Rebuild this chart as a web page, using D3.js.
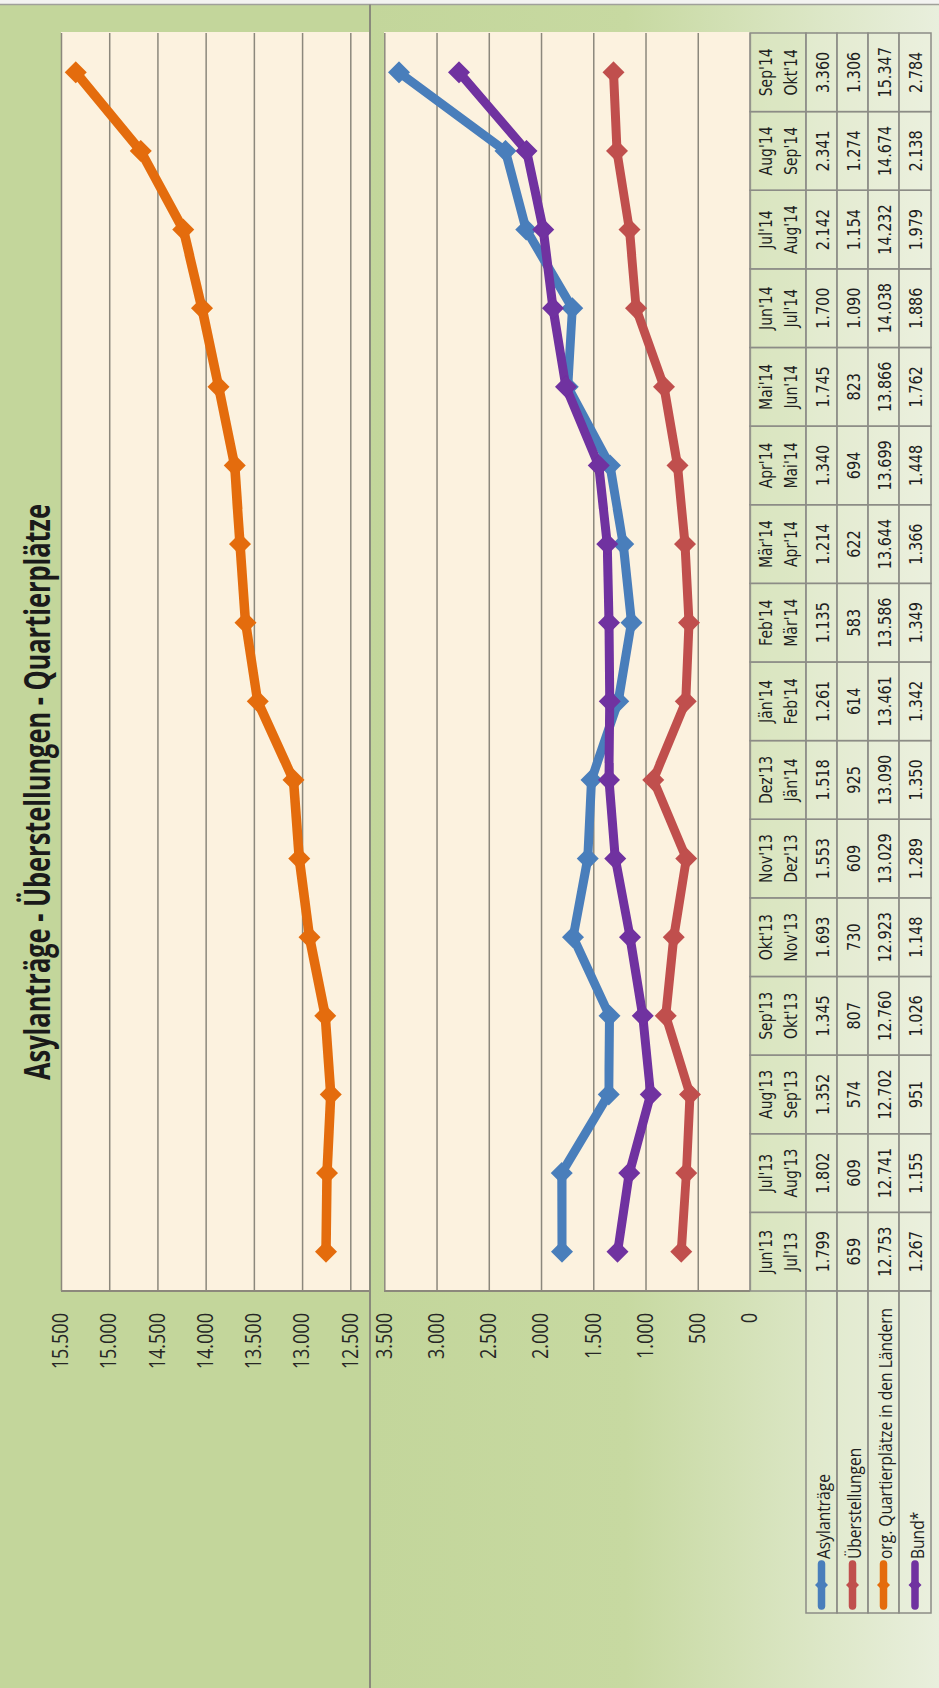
<!DOCTYPE html>
<html>
<head>
<meta charset="utf-8">
<script src="https://cdn.jsdelivr.net/npm/d3@7"></script>
<style>
  html, body { margin: 0; padding: 0; background: #ffffff; }
  svg { display: block; }
</style>
</head>
<body>
<svg id="chart" width="939" height="1688"></svg>
<script>
// ---------------- DATA ----------------
const periodFrom = ["Jun'13","Jul'13","Aug'13","Sep'13","Okt'13","Nov'13","Dez'13","Jän'14","Feb'14","Mär'14","Apr'14","Mai'14","Jun'14","Jul'14","Aug'14","Sep'14"];
const periodTo   = ["Jul'13","Aug'13","Sep'13","Okt'13","Nov'13","Dez'13","Jän'14","Feb'14","Mär'14","Apr'14","Mai'14","Jun'14","Jul'14","Aug'14","Sep'14","Okt'14"];
const asylantraege    = [1799, 1802, 1352, 1345, 1693, 1553, 1518, 1261, 1135, 1214, 1340, 1745, 1700, 2142, 2341, 3360];
const ueberstellungen = [659, 609, 574, 807, 730, 609, 925, 614, 583, 622, 694, 823, 1090, 1154, 1274, 1306];
const quartierplaetze = [12753, 12741, 12702, 12760, 12923, 13029, 13090, 13461, 13586, 13644, 13699, 13866, 14038, 14232, 14674, 15347];
const bund            = [1267, 1155, 951, 1026, 1148, 1289, 1350, 1342, 1349, 1366, 1448, 1762, 1886, 1979, 2138, 2784];
const seriesNames  = ["Asylanträge", "Überstellungen", "org. Quartierplätze in den Ländern", "Bund*"];
const seriesColors = ["#4a7ebb", "#c0504d", "#e46c0a", "#7030a0"];
const upperTicks = [12500, 13000, 13500, 14000, 14500, 15000, 15500];
const lowerTicks = [0, 500, 1000, 1500, 2000, 2500, 3000, 3500];
const titleText = "Asylanträge - Überstellungen - Quartierplätze";

// ---------------- LAYOUT (unrotated frame, rotated -90° at the end) ----------------
const W = 1688, H = 939;
const plotX0 = 397, plotX1 = 1655;
const upperTop = 61, upperBottom = 369;
const lowerTop = 384, lowerZero = 750;
const rowEdges = [750, 806, 837, 868, 899, 931];
const legendX0 = 75;
const gridColor = "#8c887c";
const borderColor = "#8c8c86";
const numFont = "'Open Sans', 'Noto Sans', sans-serif";
const tableFont = "'DejaVu Sans', Verdana, sans-serif";

const de = d3.formatLocale({decimal: ",", thousands: ".", grouping: [3], currency: ["", "€"]});
const fmt = de.format(",d");

const svg = d3.select("#chart");
const defs = svg.append("defs");
const grad = defs.append("linearGradient").attr("id", "bgLower")
  .attr("gradientUnits", "userSpaceOnUse")
  .attr("x1", 0).attr("y1", 370).attr("x2", 0).attr("y2", H);
grad.append("stop").attr("offset", 0).attr("stop-color", "#c3d69b");
grad.append("stop").attr("offset", 0.45).attr("stop-color", "#c7d9a1");
grad.append("stop").attr("offset", 1).attr("stop-color", "#e9efdd");

const soft = defs.append("filter").attr("id", "soft").attr("x", "-20%").attr("y", "-20%").attr("width", "140%").attr("height", "140%");
soft.append("feGaussianBlur").attr("stdDeviation", 0.7);

const root = svg.append("g").attr("transform", `translate(0,${W}) rotate(-90)`);

// backgrounds
root.append("rect").attr("x", 0).attr("y", 0).attr("width", W).attr("height", H).attr("fill", "#c3d69b");
root.append("rect").attr("x", 0).attr("y", 370).attr("width", W).attr("height", H - 370).attr("fill", "url(#bgLower)");
root.append("rect").attr("x", W - 4).attr("y", 0).attr("width", 4).attr("height", H).attr("fill", "#f3f3f1");
root.append("line").attr("x1", W - 4.5).attr("x2", W - 4.5).attr("y1", 0).attr("y2", H)
  .attr("stroke", "#a0a09a").attr("stroke-width", 1.5);
root.append("line").attr("x1", 0).attr("x2", W - 4.5).attr("y1", 370).attr("y2", 370)
  .attr("stroke", "#8a8a7c").attr("stroke-width", 2);

// plot areas
const plotBg = "#fcf2df";
root.append("rect").attr("x", plotX0).attr("y", upperTop).attr("width", plotX1 - plotX0 + 1).attr("height", upperBottom - upperTop).attr("fill", plotBg);
root.append("rect").attr("x", plotX0).attr("y", lowerTop).attr("width", plotX1 - plotX0 + 1).attr("height", lowerZero - lowerTop).attr("fill", plotBg);

// scales
const xBand = d3.scaleBand().domain(d3.range(periodFrom.length)).range([plotX0, plotX1]);
const cx = i => xBand(i) + xBand.bandwidth() / 2;
const yUp = d3.scaleLinear().domain([12500, 15500]).range([350.3, upperTop]);
const yLo = d3.scaleLinear().domain([0, 3500]).range([lowerZero, 384.3]);

// gridlines
function grid(scale, ticks) {
  const g = root.append("g").attr("transform", `translate(${plotX0},0)`)
    .call(d3.axisLeft(scale).tickValues(ticks).tickSize(-(plotX1 - plotX0)).tickFormat(""));
  g.select(".domain").remove();
  g.selectAll("line").attr("stroke", gridColor).attr("stroke-width", 1.5);
}
grid(yUp, upperTicks);
grid(yLo, lowerTicks);

// category axis lines
root.append("line").attr("x1", plotX0).attr("x2", plotX0).attr("y1", upperTop).attr("y2", upperBottom)
  .attr("stroke", gridColor).attr("stroke-width", 1.8);
root.append("line").attr("x1", plotX0).attr("x2", plotX0).attr("y1", lowerTop).attr("y2", lowerZero)
  .attr("stroke", gridColor).attr("stroke-width", 1.8);

// value axis labels
const tickSx = 0.86, tickPad = 22;
function valueAxis(scale, ticks) {
  const g = root.append("g").attr("transform", `translate(${plotX0},0)`)
    .call(d3.axisLeft(scale).tickValues(ticks).tickSize(0).tickPadding(tickPad).tickFormat(fmt));
  g.select(".domain").remove();
  g.selectAll("text")
    .attr("font-family", numFont).attr("font-size", 21).attr("fill", "#262626")
    .attr("x", -tickPad / tickSx).attr("transform", `scale(${tickSx},1)`);
}
valueAxis(yUp, upperTicks);
valueAxis(yLo, lowerTicks);

// series
function drawSeries(values, yScale, color, width) {
  const lineGen = d3.line().x((d, i) => cx(i)).y(d => yScale(d));
  const g = root.append("g").attr("filter", "url(#soft)");
  g.append("path").datum(values).attr("d", lineGen)
    .attr("fill", "none").attr("stroke", color).attr("stroke-width", width)
    .attr("stroke-linejoin", "round").attr("stroke-linecap", "round");
  const r = 11;
  g.selectAll("path.m").data(values).enter().append("path").attr("class", "m")
    .attr("d", `M0,${-r}L${r},0L0,${r}L${-r},0Z`)
    .attr("transform", (d, i) => `translate(${cx(i)},${yScale(d)})`)
    .attr("fill", color);
}
drawSeries(quartierplaetze, yUp, seriesColors[2], 9.5);
drawSeries(asylantraege, yLo, seriesColors[0], 9);
drawSeries(ueberstellungen, yLo, seriesColors[1], 9);
drawSeries(bund, yLo, seriesColors[3], 9);

// data table
const tbl = root.append("g");
const bw = xBand.bandwidth();
periodFrom.forEach((p, i) => {
  for (let r = 0; r < rowEdges.length - 1; r++) {
    tbl.append("rect").attr("x", xBand(i)).attr("y", rowEdges[r]).attr("width", bw).attr("height", rowEdges[r + 1] - rowEdges[r])
      .attr("fill", r === 0 ? "rgba(225,233,200,0.45)" : "rgba(240,244,226,0.35)")
      .attr("stroke", borderColor).attr("stroke-width", 1.5);
  }
});
for (let r = 1; r < rowEdges.length - 1; r++) {
  tbl.append("rect").attr("x", legendX0).attr("y", rowEdges[r]).attr("width", plotX0 - legendX0).attr("height", rowEdges[r + 1] - rowEdges[r])
    .attr("fill", "rgba(240,244,226,0.25)")
    .attr("stroke", borderColor).attr("stroke-width", 1.5);
}

function addText(parent, str, x, y, opts) {
  const t = parent.append("text").text(str)
    .attr("font-family", opts.family).attr("font-size", opts.size)
    .attr("font-weight", opts.weight || "normal")
    .attr("fill", opts.fill || "#1e1e1e")
    .attr("text-anchor", opts.anchor || "middle")
    .attr("dominant-baseline", opts.baseline || "central");
  const sx = opts.sx || 1;
  t.attr("x", x / sx).attr("y", y).attr("transform", `scale(${sx},1)`);
  return t;
}

const tableSx = 0.8;
const tableRows = [asylantraege, ueberstellungen, quartierplaetze, bund];
periodFrom.forEach((p, i) => {
  addText(tbl, p, cx(i), 766, {family: tableFont, size: 17.5, sx: tableSx});
  addText(tbl, periodTo[i], cx(i), 791, {family: tableFont, size: 17.5, sx: tableSx});
  tableRows.forEach((vals, r) => {
    addText(tbl, fmt(vals[i]), cx(i), (rowEdges[r + 1] + rowEdges[r + 2]) / 2 + 1, {family: tableFont, size: 18, sx: tableSx});
  });
});

// legend inside the table
const legendSx = 0.82;
seriesNames.forEach((name, r) => {
  const yc = (rowEdges[r + 1] + rowEdges[r + 2]) / 2;
  const lg = tbl.append("g").attr("filter", "url(#soft)");
  lg.append("line").attr("x1", 82).attr("x2", 124).attr("y1", yc).attr("y2", yc)
    .attr("stroke", seriesColors[r]).attr("stroke-width", 7.5).attr("stroke-linecap", "round");
  lg.append("path").attr("d", "M0,-6.5L6.5,0L0,6.5L-6.5,0Z").attr("transform", `translate(103,${yc})`).attr("fill", seriesColors[r]);
  addText(tbl, name, 129, yc + 1, {family: numFont, size: 19, sx: legendSx, anchor: "start"});
});

// title
const title = root.append("text").text(titleText)
  .attr("font-family", numFont).attr("font-weight", "bold").attr("font-size", 35)
  .attr("fill", "#1a1a1a").attr("text-anchor", "middle");
const tLen = title.node().getComputedTextLength();
const tSx = 576 / tLen;
title.attr("x", 896 / tSx).attr("y", 50).attr("transform", `scale(${tSx},1)`);
</script>
</body>
</html>
